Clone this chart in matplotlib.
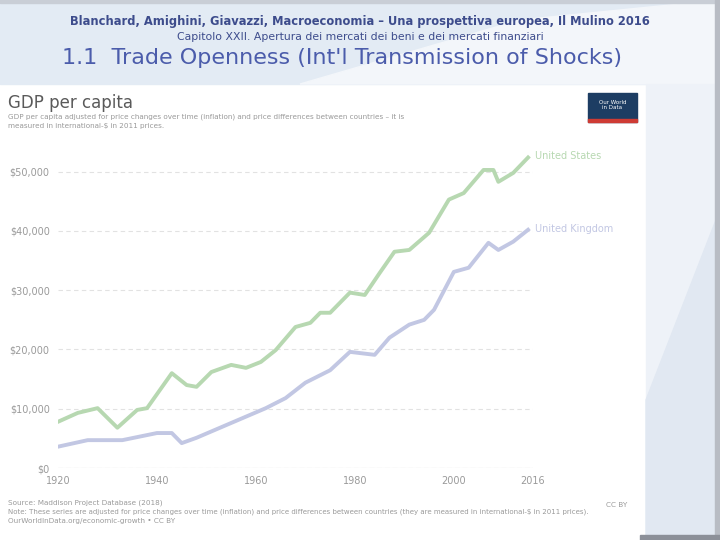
import matplotlib
matplotlib.use("Agg")
import matplotlib.pyplot as plt
from matplotlib.patches import Rectangle, Polygon

# GDP per capita (international-$)
us_years = [1920, 1924, 1928, 1932, 1936, 1938, 1943, 1946, 1948, 1951, 1955,
            1958, 1961, 1964, 1968, 1971, 1973, 1975, 1979, 1982, 1985, 1988,
            1991, 1995, 1999, 2002, 2006, 2008, 2009, 2012, 2015]
us_gdp = [7800, 9300, 10100, 6800, 9800, 10100, 16000, 14000, 13700, 16200,
          17400, 16900, 17900, 19900, 23800, 24500, 26200, 26200, 29600, 29200,
          32900, 36500, 36800, 39700, 45300, 46400, 50300, 50300, 48300, 49800,
          52400]
uk_years = [1920, 1926, 1933, 1940, 1943, 1945, 1948, 1955, 1962, 1966, 1970,
            1975, 1979, 1984, 1987, 1991, 1994, 1996, 2000, 2003, 2007, 2009,
            2012, 2015]
uk_gdp = [3600, 4700, 4700, 5900, 5900, 4200, 5100, 7600, 10100, 11800, 14400,
          16500, 19600, 19100, 22000, 24200, 25000, 26700, 33100, 33800, 38000,
          36800, 38200, 40200]
x_ticks = [1920, 1940, 1960, 1980, 2000, 2016]
y_ticks = [0, 10000, 20000, 30000, 40000, 50000]

GREEN = "#b7d8b1"
BLUE = "#c2c7e3"
GREY = "#8a8a8a"
NAVY = "#3d4c8c"

fig = plt.figure(figsize=(7.2, 5.4), dpi=100)

# slide background drawn in pixel coordinates
bg = fig.add_axes([0, 0, 1, 1])
bg.set_xlim(0, 720)
bg.set_ylim(540, 0)
bg.axis("off")
bg.add_patch(Rectangle((0, 0), 720, 84, color="#e3ebf4", zorder=0))
bg.add_patch(Polygon([(300, 84), (520, 20), (720, 0), (720, 84)],
                     color="#f3f6fa", zorder=0))
bg.add_patch(Rectangle((0, 0), 720, 3, color="#c9ced6", zorder=1))
bg.add_patch(Rectangle((646, 84), 70, 452, color="#eef2f8", zorder=0))
bg.add_patch(Polygon([(646, 400), (716, 220), (716, 536), (646, 536)],
                     color="#e1e8f2", zorder=0))
bg.add_patch(Rectangle((715, 0), 5, 540, color="#b8bcc4", zorder=1))
bg.add_patch(Rectangle((640, 535), 80, 5, color="#8c9099", zorder=1))

bg.text(360, 22, "Blanchard, Amighini, Giavazzi, Macroeconomia \u2013 Una prospettiva europea, Il Mulino 2016",
        ha="center", va="center", fontsize=8.3, fontweight="bold", color=NAVY)
bg.text(360, 37, "Capitolo XXII. Apertura dei mercati dei beni e dei mercati finanziari",
        ha="center", va="center", fontsize=7.8, color=NAVY)
bg.text(342, 58, "1.1  Trade Openness (Int'l Transmission of Shocks)",
        ha="center", va="center", fontsize=16, color="#4b5cab")

bg.text(8, 103, "GDP per capita", ha="left", va="center", fontsize=12,
        color="#5a5a5a")
bg.text(8, 117, "GDP per capita adjusted for price changes over time (inflation) and price differences between countries \u2013 it is",
        ha="left", va="center", fontsize=5.2, color="#999999")
bg.text(8, 126, "measured in international-$ in 2011 prices.",
        ha="left", va="center", fontsize=5.2, color="#999999")

# OWID logo
bg.add_patch(Rectangle((588, 93), 49, 29, color="#1d3d63", zorder=2))
bg.add_patch(Rectangle((588, 119), 49, 3, color="#ce3b34", zorder=3))
bg.text(612.5, 105, "Our World\nin Data", ha="center", va="center",
        fontsize=4, color="white", zorder=4, linespacing=1.0)

bg.text(8, 503, "Source: Maddison Project Database (2018)", ha="left",
        va="center", fontsize=5.2, color="#9a9a9a")
bg.text(8, 512, "Note: These series are adjusted for price changes over time (inflation) and price differences between countries (they are measured in international-$ in 2011 prices).",
        ha="left", va="center", fontsize=5.0, color="#9a9a9a")
bg.text(8, 521, "OurWorldInData.org/economic-growth \u2022 CC BY",
        ha="left", va="center", fontsize=5.2, color="#9a9a9a")
bg.text(617, 505, "CC BY", ha="center", va="center", fontsize=5.2,
        color="#9a9a9a")

# chart
ax = fig.add_axes([58 / 720, 72 / 540, 475 / 720, 317 / 540])
ax.patch.set_alpha(0)
ax.plot(us_years, us_gdp, color=GREEN, lw=2.8, solid_joinstyle="round")
ax.plot(uk_years, uk_gdp, color=BLUE, lw=2.8, solid_joinstyle="round")
ax.set_xlim(1920, 2016)
ax.set_ylim(0, 53500)
ax.set_xticks(x_ticks)
ax.set_xticklabels([str(t) for t in x_ticks])
ax.set_yticks(y_ticks)
ax.set_yticklabels(["$0" if v == 0 else f"${v:,}" for v in y_ticks])
ax.tick_params(length=0, labelsize=7, colors="#9a9a9a", pad=6)
ax.grid(axis="y", color="#e2e2e2", linestyle=(0, (4, 3)), linewidth=0.8)
ax.axhline(0, color="#d5d5d5", lw=0.8)
for s in ax.spines.values():
    s.set_visible(False)
ax.text(us_years[-1] + 1.5, us_gdp[-1] + 300, "United States", fontsize=7,
        color=GREEN, va="center", ha="left", clip_on=False)
ax.text(uk_years[-1] + 1.5, uk_gdp[-1] + 100, "United Kingdom", fontsize=7,
        color=BLUE, va="center", ha="left", clip_on=False)

fig.savefig("out.png", dpi=100)
